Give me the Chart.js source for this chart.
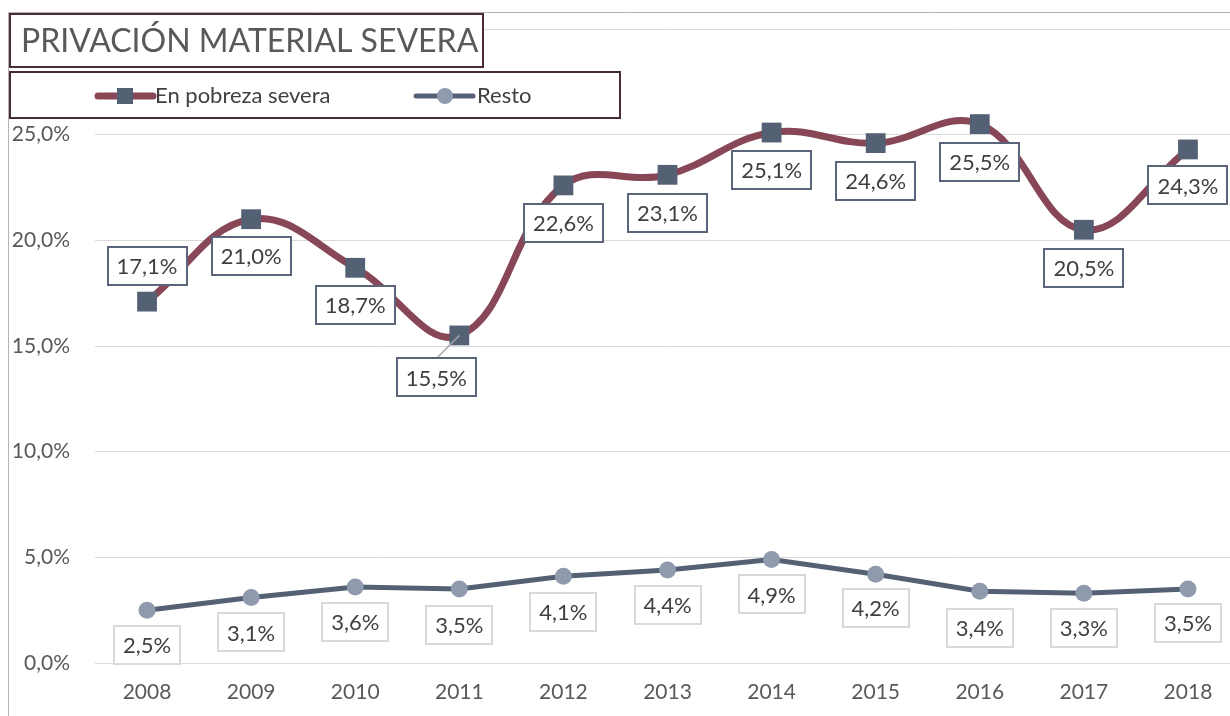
<!DOCTYPE html>
<html>
<head>
<meta charset="utf-8">
<script src="https://cdn.jsdelivr.net/npm/chart.js@4.4.1/dist/chart.umd.min.js"></script>
<style>
  html, body { margin: 0; padding: 0; background: #fff; overflow: hidden; width: 1230px; height: 716px; }
  canvas { display: block; }
</style>
</head>
<body>
<canvas id="chart" width="1240" height="716" style="width:1240px;height:716px"></canvas>
<script>
// Years on the category axis
const years = ['2008', '2009', '2010', '2011', '2012', '2013', '2014', '2015', '2016', '2017', '2018'];
// Share of people in severe material deprivation (%)
const enPobrezaSevera = [17.1, 21.0, 18.7, 15.5, 22.6, 23.1, 25.1, 24.6, 25.5, 20.5, 24.3];
const resto = [2.5, 3.1, 3.6, 3.5, 4.1, 4.4, 4.9, 4.2, 3.4, 3.3, 3.5];
// Value axis ticks (%)
const yTickValues = [0, 5, 10, 15, 20, 25, 30];

const seriesNames = ['En pobreza severa', 'Resto'];
const chartTitle = 'PRIVACIÓN MATERIAL SEVERA';

const FONT = 'Lato, "Open Sans", "DejaVu Sans", sans-serif';
const MAROON = '#874757';
const SLATE = '#546175';
const SLATE_LIGHT = '#8f9bac';

const fmt = v => v.toFixed(1).replace('.', ',') + '%';

// Where each value label box sits relative to its point (px)
const labelPlacement = [
  { dy: [-36, 37, 37, 42, 38, 38, 37, 38, 38, 38, 36], dx: [0, 0, 0, -23, 0, 0, 0, 0, 0, 0, 0],
    border: '#5b6579', leader: [false, false, false, true, false, false, false, false, false, false, false] },
  { dy: [35, 35, 35, 36, 36, 35, 35, 34, 37, 35, 34], dx: [0, 0, 0, 0, 0, 0, 0, 0, 0, 0, 0],
    border: '#d9d9d9', leader: [] }
];

const framePlugin = {
  id: 'frame',
  beforeDraw(chart) {
    const ctx = chart.ctx;
    ctx.save();
    ctx.fillStyle = '#ffffff';
    ctx.fillRect(0, 0, chart.width, chart.height);
    ctx.strokeStyle = '#b4b4b4';
    ctx.lineWidth = 1;
    ctx.beginPath();
    ctx.moveTo(8.5, chart.height);
    ctx.lineTo(8.5, 12.5);
    ctx.lineTo(chart.width, 12.5);
    ctx.stroke();
    ctx.restore();
  }
};

const valueLabelPlugin = {
  id: 'valueLabels',
  afterDatasetsDraw(chart) {
    const ctx = chart.ctx;
    ctx.save();
    ctx.font = '22px ' + FONT;
    ctx.textAlign = 'center';
    ctx.textBaseline = 'middle';
    chart.data.datasets.forEach((ds, di) => {
      const meta = chart.getDatasetMeta(di);
      const place = labelPlacement[di];
      meta.data.forEach((pt, i) => {
        const text = fmt(ds.data[i]);
        const w = Math.round(ctx.measureText(text).width) + 18;
        const h = 38;
        const cx = pt.x + place.dx[i];
        const cy = pt.y + place.dy[i];
        if (place.leader[i]) {
          ctx.strokeStyle = '#a6a6a6';
          ctx.lineWidth = 1.5;
          ctx.beginPath();
          ctx.moveTo(pt.x, pt.y);
          ctx.lineTo(cx, cy - h / 2);
          ctx.stroke();
        }
        ctx.fillStyle = '#ffffff';
        ctx.fillRect(cx - w / 2, cy - h / 2, w, h);
        ctx.strokeStyle = place.border;
        ctx.lineWidth = 2;
        ctx.strokeRect(Math.round(cx - w / 2), Math.round(cy - h / 2), w, h);
        ctx.fillStyle = '#404040';
        ctx.fillText(text, cx, cy + 1);
      });
    });
    ctx.restore();
  }
};

const headerPlugin = {
  id: 'header',
  afterDraw(chart) {
    const ctx = chart.ctx;
    ctx.save();
    // title box
    ctx.fillStyle = '#ffffff';
    ctx.fillRect(10, 14, 473, 53);
    ctx.strokeStyle = '#4a2c37';
    ctx.lineWidth = 2;
    ctx.strokeRect(10, 14, 473, 53);
    ctx.fillStyle = '#595959';
    ctx.font = '32px ' + FONT;
    ctx.textBaseline = 'middle';
    ctx.textAlign = 'left';
    ctx.fillText(chartTitle, 21, 42);

    // legend box
    ctx.fillStyle = '#ffffff';
    ctx.fillRect(10, 72, 610, 46);
    ctx.strokeRect(10, 72, 610, 46);
    const ly = 96;
    ctx.lineCap = 'round';
    // first entry
    ctx.strokeStyle = MAROON;
    ctx.lineWidth = 7;
    ctx.beginPath(); ctx.moveTo(98, ly); ctx.lineTo(153, ly); ctx.stroke();
    ctx.fillStyle = SLATE;
    ctx.fillRect(117, ly - 8, 16, 16);
    // second entry
    ctx.strokeStyle = SLATE;
    ctx.lineWidth = 5;
    ctx.beginPath(); ctx.moveTo(416, ly); ctx.lineTo(473, ly); ctx.stroke();
    ctx.fillStyle = SLATE_LIGHT;
    ctx.beginPath(); ctx.arc(445, ly, 8, 0, Math.PI * 2); ctx.fill();

    ctx.fillStyle = '#404040';
    ctx.font = '22px ' + FONT;
    ctx.fillText(seriesNames[0], 155, ly);
    ctx.fillText(seriesNames[1], 477, ly);
    ctx.restore();
  }
};

new Chart(document.getElementById('chart'), {
  type: 'line',
  data: {
    labels: years,
    datasets: [
      {
        label: seriesNames[0],
        data: enPobrezaSevera,
        borderColor: MAROON,
        borderWidth: 7,
        tension: 0.4,
        pointStyle: 'rect',
        pointRadius: 14,
        pointBackgroundColor: SLATE,
        pointBorderColor: SLATE,
        pointBorderWidth: 0,
        fill: false,
        order: 1
      },
      {
        label: seriesNames[1],
        data: resto,
        borderColor: SLATE,
        borderWidth: 5,
        tension: 0,
        pointStyle: 'circle',
        pointRadius: 8.5,
        pointBackgroundColor: SLATE_LIGHT,
        pointBorderColor: SLATE_LIGHT,
        pointBorderWidth: 0,
        fill: false,
        order: 2
      }
    ]
  },
  options: {
    responsive: false,
    devicePixelRatio: 1,
    animation: false,
    events: [],
    layout: { autoPadding: false, padding: { top: 29, left: 0, right: 0, bottom: 0 } },
    plugins: {
      legend: { display: false },
      title: { display: false },
      tooltip: { enabled: false }
    },
    scales: {
      x: {
        offset: true,
        grid: { display: false, drawTicks: false },
        border: { display: false },
        ticks: { color: '#595959', font: { family: FONT, size: 21 }, padding: 17, maxRotation: 0 },
        afterFit(scale) { scale.height = 53; scale.paddingLeft = 0; scale.paddingRight = 0; }
      },
      y: {
        min: 0,
        max: 30,
        afterBuildTicks(scale) { scale.ticks = yTickValues.map(v => ({ value: v })); },
        grid: { color: '#d9d9d9', lineWidth: 1, drawTicks: false },
        border: { display: false },
        ticks: {
          color: '#595959',
          font: { family: FONT, size: 21 },
          padding: 25,
          callback: v => (v === 30 ? '' : fmt(v))
        },
        afterFit(scale) { scale.width = 95; scale.paddingTop = 0; scale.paddingBottom = 0; }
      }
    }
  },
  plugins: [framePlugin, valueLabelPlugin, headerPlugin]
});
</script>
</body>
</html>
